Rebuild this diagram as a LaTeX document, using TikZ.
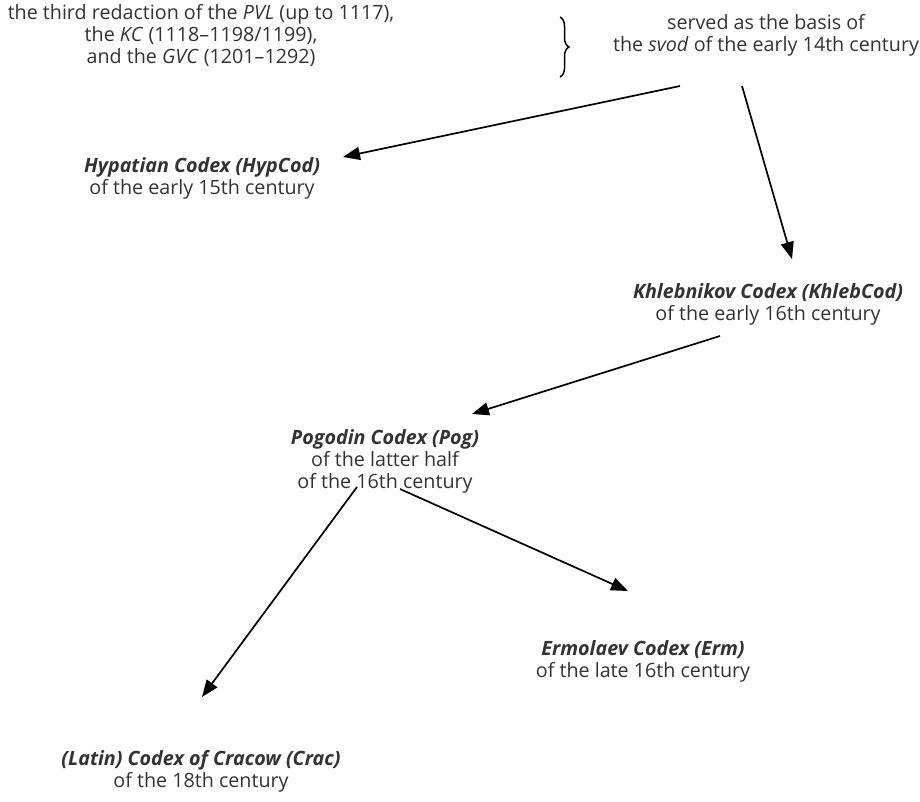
\documentclass[tikz,border=0pt]{standalone}
\usepackage{fontspec}
\setmainfont{Open Sans}
\usetikzlibrary{decorations.pathreplacing,arrows.meta}
\definecolor{txt}{HTML}{333333}
\tikzset{
  lbl/.style={align=center,text=txt,font=\fontsize{19.7}{22}\selectfont,inner sep=0pt},
  arr/.style={draw=black,line width=1.7pt,-{Triangle[length=17pt,width=13pt]}}
}
\begin{document}
\begin{tikzpicture}[x=1pt,y=-1pt]
\useasboundingbox (0,0) rectangle (920,801);
\node[lbl] (src) at (201,36) {the third redaction of the \textit{PVL} (up to 1117),\\the \textit{KC} (1118--1198/1199),\\and the \textit{GVC} (1201--1292)};
\node[lbl] (svod) at (766,35) {served as the basis of\\the \textit{svod} of the early 14th century};
\coordinate (bt) at (560,17);
\coordinate (bb) at (560,77);
\draw[line width=1.5pt,decorate,decoration={brace,amplitude=9pt}] (bt) -- (bb);
\node[lbl] (hyp) at (202,178) {\textbf{\textit{Hypatian Codex (HypCod)}}\\of the early 15th century};
\node[lbl] (khl) at (768,304) {\textbf{\textit{Khlebnikov Codex (KhlebCod)}}\\of the early 16th century};
\node[lbl] (pog) at (385,461) {\textbf{\textit{Pogodin Codex (Pog)}}\\of the latter half\\of the 16th century};
\node[lbl] (erm) at (643,661) {\textbf{\textit{Ermolaev Codex (Erm)}}\\of the late 16th century};
\node[lbl] (crac) at (201,771) {\textbf{\textit{(Latin) Codex of Cracow (Crac)}}\\of the 18th century};
\coordinate (a1s) at (680,86);
\coordinate (a1e) at (343,157);
\coordinate (a2s) at (742,86);
\coordinate (a2e) at (792,259);
\coordinate (a3s) at (720,336);
\coordinate (a3e) at (472,414);
\coordinate (a4s) at (357,487);
\coordinate (a4e) at (202,697);
\coordinate (a5s) at (400,489);
\coordinate (a5e) at (628,591);
\draw[arr] (a1s) -- (a1e);
\draw[arr] (a2s) -- (a2e);
\draw[arr] (a3s) -- (a3e);
\draw[arr] (a4s) -- (a4e);
\draw[arr] (a5s) -- (a5e);
\end{tikzpicture}
\end{document}
